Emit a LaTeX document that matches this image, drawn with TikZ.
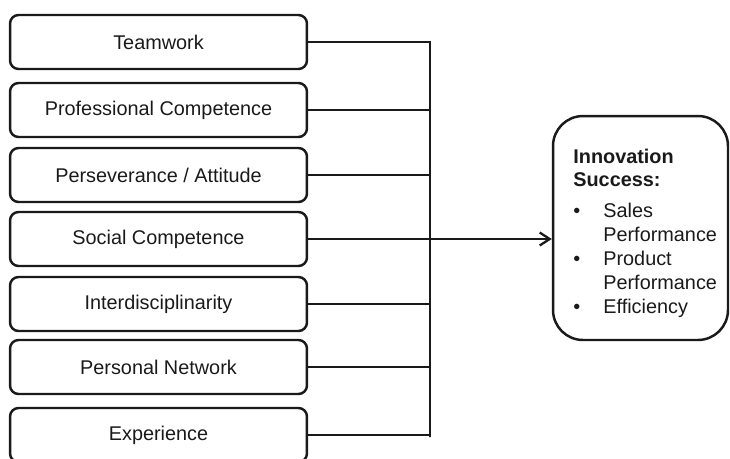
\documentclass[tikz,border=0pt]{standalone}
\usepackage{fontspec}
\setmainfont{Liberation Sans}
\usepackage{xcolor}
\usetikzlibrary{arrows.meta}
\definecolor{vblack}{HTML}{1a1a1a}

\begin{document}
\begin{tikzpicture}[x=0.02cm, y=-0.02cm,
	factor/.style={draw=vblack, line width=1.4pt, rounded corners=0.17cm, minimum width=5.94cm, minimum height=1.08cm, inner sep=0pt, font=\fontsize{11.3}{13.6}\selectfont, text=vblack},
	outcome/.style={draw=vblack, line width=1.4pt, rounded corners=0.6cm, minimum width=3.5cm, minimum height=4.48cm, inner sep=0pt},
	link/.style={draw=vblack, line width=1.3pt}]
	\useasboundingbox (0,0) rectangle (730,458);
	% influence factors
	\node[factor] (team) at (158.5,42) {Teamwork};
	\node[factor] (prof) at (158.5,110) {Professional Competence};
	\node[factor] (pers) at (158.5,175) {Perseverance / Attitude};
	\node[factor] (social) at (158.5,239) {Social Competence};
	\node[factor] (inter) at (158.5,304) {Interdisciplinarity};
	\node[factor] (net) at (158.5,367) {Personal Network};
	\node[factor] (exp) at (158.5,435) {Experience};
	% outcome box
	\node[outcome] (success) at (640.5,228) {};
	\node[anchor=north west, inner sep=0pt, text=vblack, font=\fontsize{11.3}{13.6}\selectfont] (successlist) at (573,146) {%
		\begin{tabular}{@{}p{0.6cm}@{}l@{}}
			\multicolumn{2}{@{}l@{}}{\textbf{Innovation}}\\
			\multicolumn{2}{@{}l@{}}{\textbf{Success:}}\\[0.14cm]
			\textbullet & Sales\\
			 & Performance\\
			\textbullet & Product\\
			 & Performance\\
			\textbullet & Efficiency
		\end{tabular}};
	% bus line
	\coordinate (bus) at (430,437);
	\draw[link] (team.east) -| (bus) |- (exp.east);
	\foreach \n in {prof,pers,social,inter,net}
		\draw[link] (\n.east) -- (\n.east -| bus);
	\draw[link, -{Straight Barb[length=0.2cm,width=0.26cm]}] (social.east -| bus) -- (social.east -| success.west);
\end{tikzpicture}
\end{document}
